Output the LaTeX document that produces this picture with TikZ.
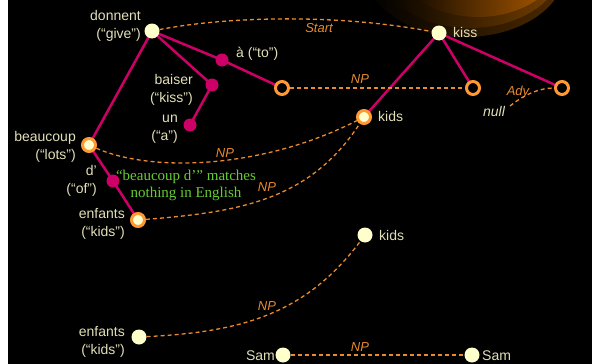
\documentclass[tikz,border=0pt]{standalone}
\usepackage{fontspec}
\setmainfont{Liberation Sans}
\newfontfamily\notefont{Liberation Serif}
\definecolor{cream}{HTML}{FFFFCC}
\definecolor{labelcol}{HTML}{E2DFB8}
\definecolor{mag}{HTML}{CC0066}
\definecolor{ringor}{HTML}{FF9933}
\definecolor{dashor}{HTML}{E88A2E}
\definecolor{greentxt}{HTML}{66CC33}
\definecolor{glowA}{HTML}{4E2A00}
\definecolor{glowB}{HTML}{7A4200}
\definecolor{glowC}{HTML}{B86000}
\pgfdeclarelayer{bg}
\pgfdeclarelayer{edges}
\pgfsetlayers{bg,edges,main}
\begin{document}
\begin{tikzpicture}[x=1pt,y=-1pt,
  lbl/.style={text=labelcol, font=\fontsize{14}{18}\selectfont, inner sep=0pt, align=right},
  ital/.style={text=dashor, font=\fontsize{13}{15}\selectfont\itshape, inner sep=0pt},
  word/.style={circle, fill=cream, minimum size=15pt, inner sep=0pt},
  fword/.style={circle, fill=mag, minimum size=13pt, inner sep=0pt},
  ring/.style={circle, draw=ringor, line width=3pt, fill=black, minimum size=13pt, inner sep=0pt},
  fring/.style={ring, fill=cream},
  tree/.style={draw=mag, line width=2.5pt},
  link/.style={draw=dashor, dash pattern=on 4pt off 3pt, line width=1.3pt}
]
\useasboundingbox (0,0) rectangle (592,364);

% backdrop and glow
\begin{pgfonlayer}{bg}
  \fill[white] (0,0) rectangle (592,364);
  \fill[black] (8,0) rectangle (592,364);
  \begin{scope}
    \clip (8,0) rectangle (592,364);
    \shade[left color=black, right color=glowA] (465,-30) ellipse [x radius=100, y radius=67];
    \shade[left color=black, right color=glowB] (470,-40) ellipse [x radius=95, y radius=68];
    \shade[left color=black, right color=glowC] (478,-50) ellipse [x radius=88, y radius=67];
  \end{scope}
\end{pgfonlayer}

% French tree
\node[word]  (don)    at (152,31)  {};
\node[fword] (to)     at (222,60)  {};
\node[ring]  (ringTo) at (282,88)  {};
\node[fword] (baiser) at (212,85)  {};
\node[fword] (un)     at (190,125) {};
\node[fring] (beau)   at (89,145)  {};
\node[fword] (dp)     at (113,181) {};
\node[fring] (enf)    at (138,220) {};

% English tree
\node[word]  (kiss)    at (439,33)  {};
\node[fring] (kidsA)   at (364,117) {};
\node[ring]  (ringNP)  at (473,88)  {};
\node[ring]  (ringAdy) at (562,88)  {};

% lower fragments
\node[word] (kidsB) at (365,235) {};
\node[word] (enfB)  at (139,337) {};
\node[word] (samA)  at (283,355) {};
\node[word] (samB)  at (472,355) {};

% word labels (two-line labels are placed by the baseline of their last line)
\node[lbl, anchor=base east] (donL)  at (141,38)  {donnent\\(“give”)};
\node[lbl, anchor=base west] (toL)   at (236,57)  {à (“to”)};
\node[lbl, anchor=base east] (baiL)  at (193,102) {baiser\\(“kiss”)};
\node[lbl, anchor=base east] (unL)   at (178,140) {un\\(“a”)};
\node[lbl, anchor=base east] (beauL) at (76,159)  {beaucoup\\(“lots”)};
\node[lbl, anchor=base east] (dpL)   at (97,193)  {d’\\(“of”)};
\node[lbl, anchor=base east] (enfL)  at (125,236) {enfants\\(“kids”)};
\node[lbl, anchor=base west] (kissL) at (453,37)  {kiss};
\node[lbl, anchor=base west] (kidsAL) at (378,121) {kids};
\node[lbl, anchor=base west] (kidsBL) at (379,240) {kids};
\node[lbl, anchor=base east] (enfBL) at (125,354) {enfants\\(“kids”)};
\node[lbl, anchor=base east] (samAL) at (275,360) {Sam};
\node[lbl, anchor=base west] (samBL) at (482,360) {Sam};

% alignment labels
\node[ital] (startL) at (319,28)  {Start};
\node[ital] (npA)    at (360,79)  {NP};
\node[ital] (npB)    at (225,153) {NP};
\node[ital] (npC)    at (267,187) {NP};
\node[ital] (adyL)   at (518,92)  {Ady};
\node[ital, text=labelcol, font=\fontsize{14}{16}\selectfont\itshape] (nullL) at (494,111) {null};
\node[ital] (npD)    at (267,306) {NP};
\node[ital] (npE)    at (360,347) {NP};
\coordinate (nullEnd) at (510,106);

% note
\node[text=greentxt, font=\notefont\fontsize{15}{17}\selectfont, align=center, inner sep=0pt, anchor=base]
  (note) at (186,197) {“beaucoup d’” matches\\nothing in English};

% dependency edges
\begin{pgfonlayer}{edges}
  \draw[tree] (don.center) -- (to.center) -- (ringTo.center);
  \draw[tree] (don.center) -- (baiser.center) -- (un.center);
  \draw[tree] (don.center) -- (beau.center) -- (dp.center) -- (enf.center);
  \draw[tree] (kiss.center) -- (kidsA.center);
  \draw[tree] (kiss.center) -- (ringNP.center);
  \draw[tree] (kiss.center) -- (ringAdy.center);
\end{pgfonlayer}

% alignment links
\draw[link] (don) .. controls (230,16) and (340,14) .. (kiss);
\draw[link] (ringTo) -- (ringNP);
\draw[link] (beau) .. controls (150,172) and (260,170) .. (kidsA);
\draw[link] (enf) .. controls (240,212) and (310,200) .. (kidsA);
\draw[link] (nullEnd) .. controls (525,94) and (540,88) .. (ringAdy);
\draw[link] (enfB) .. controls (240,332) and (305,315) .. (kidsB);
\draw[link] (samA) -- (samB);
\end{tikzpicture}
\end{document}
